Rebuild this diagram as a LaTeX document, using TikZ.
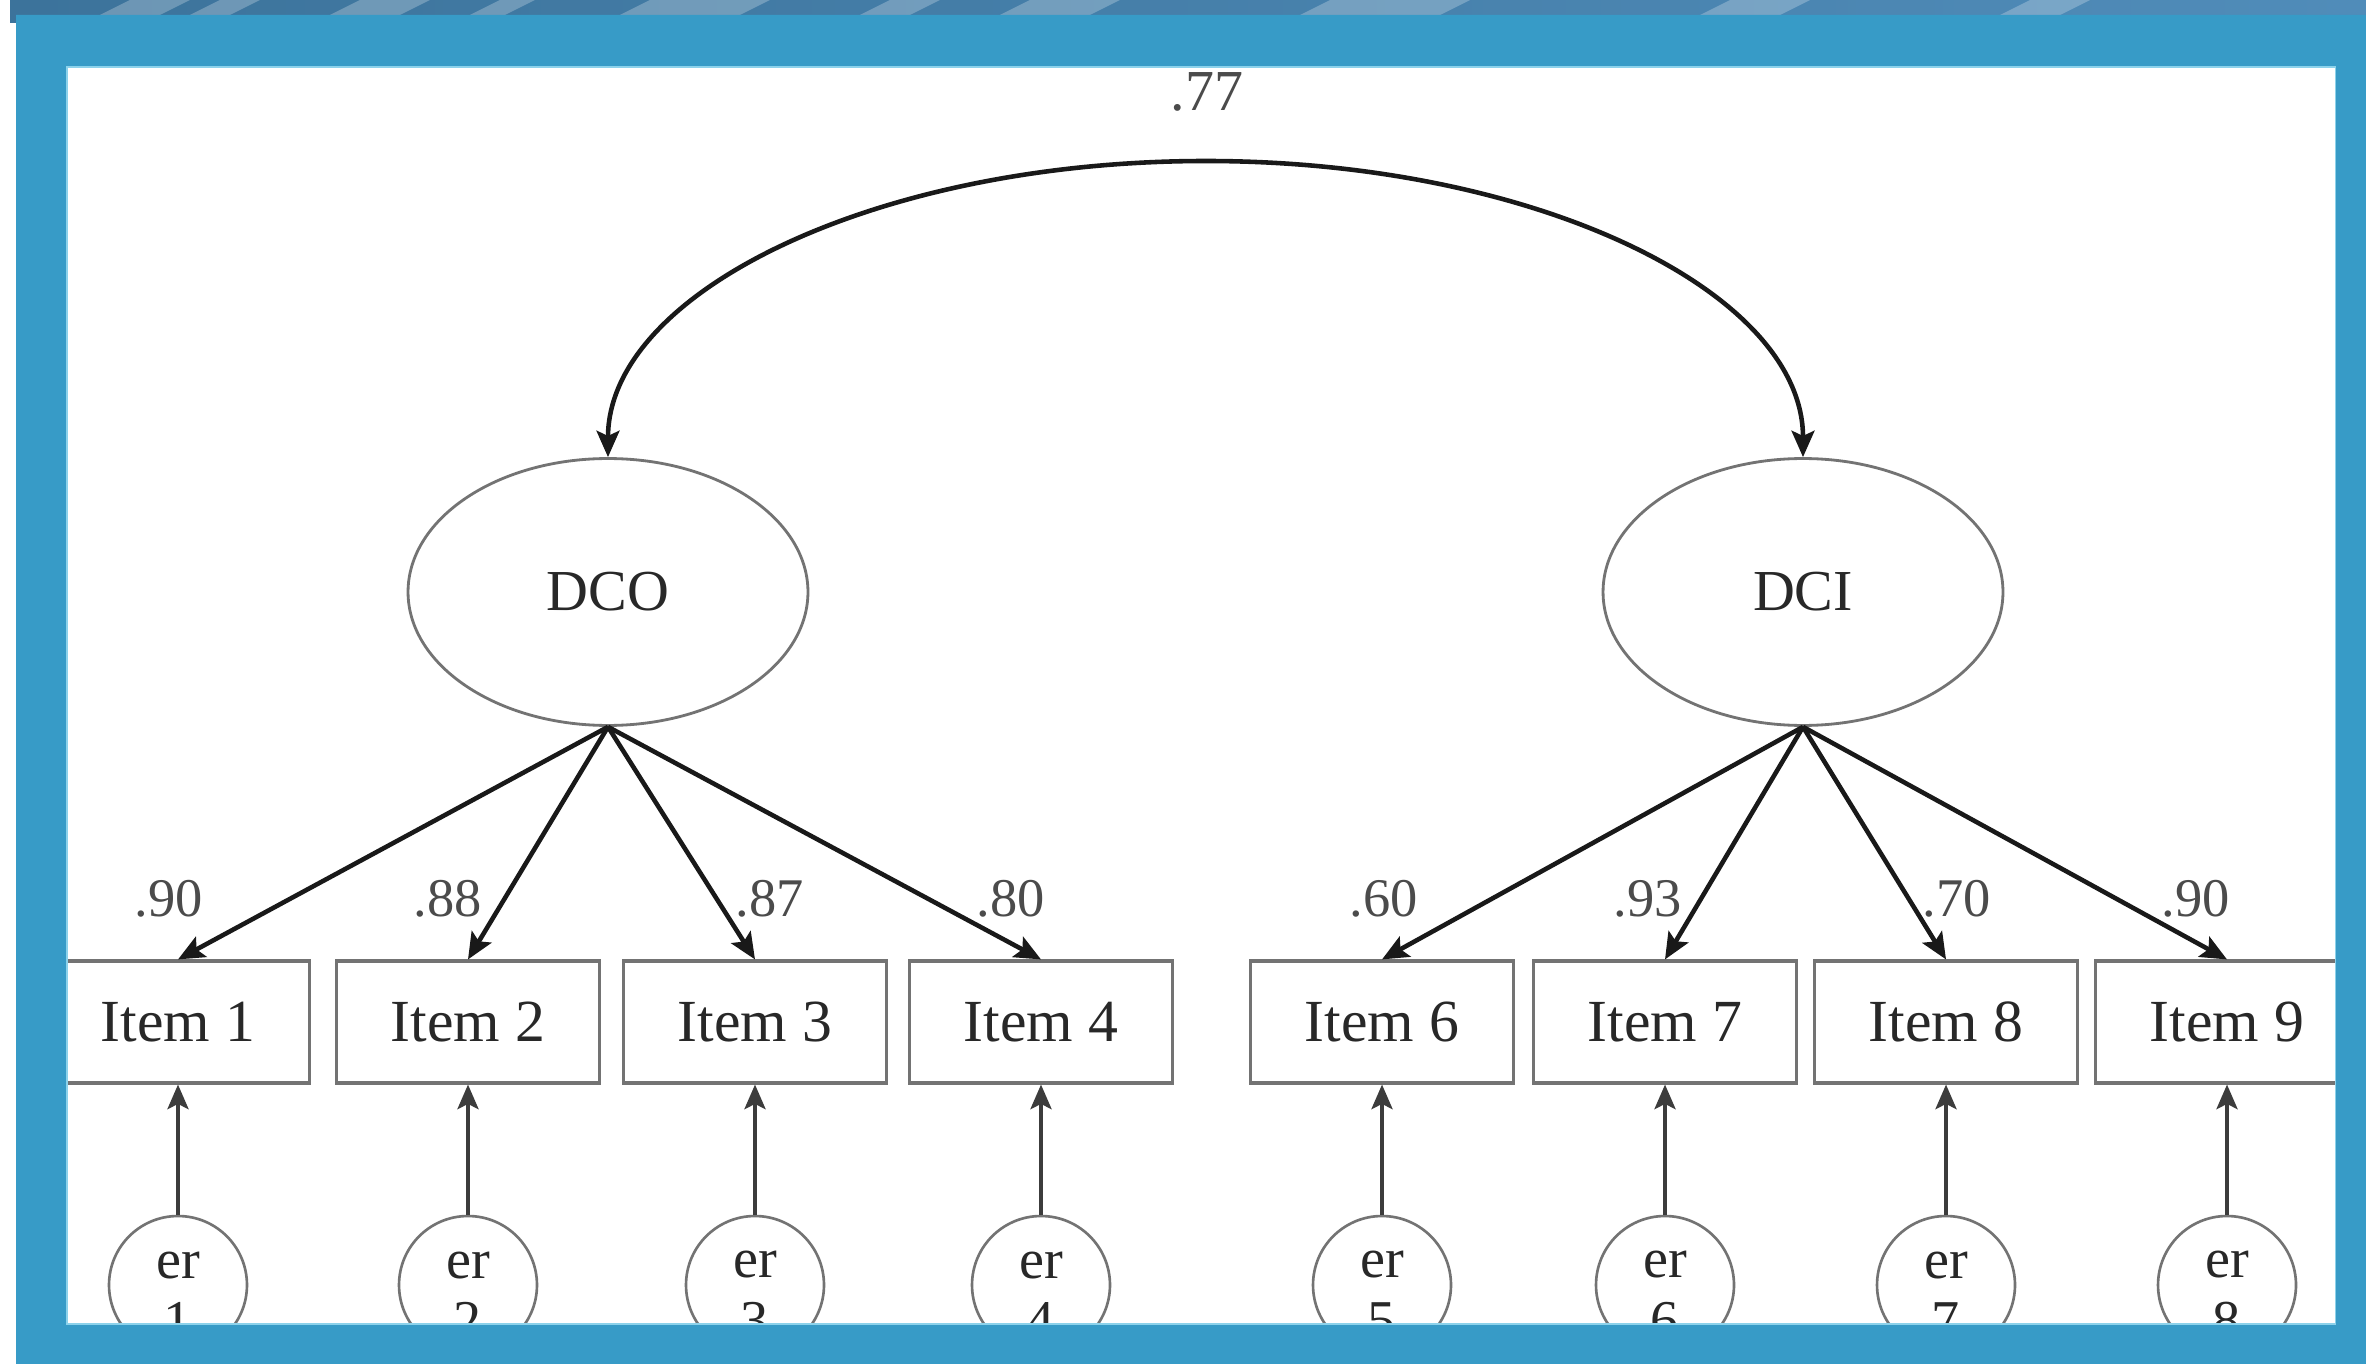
\documentclass[tikz,border=0pt]{standalone}
\usepackage{fontspec}
\setmainfont{Liberation Serif}
\usetikzlibrary{arrows.meta,shapes.geometric,calc}
\definecolor{frameblue}{RGB}{55,155,199}
\definecolor{framelight}{RGB}{140,210,235}
\definecolor{bannerdark}{RGB}{60,115,155}
\definecolor{bannermid}{RGB}{80,140,185}
\definecolor{outline}{RGB}{115,115,115}
\definecolor{txt}{RGB}{40,40,40}
\definecolor{lbltxt}{RGB}{75,75,75}
\definecolor{arrowc}{RGB}{25,25,25}
\begin{document}
\begin{tikzpicture}[x=0.02cm,y=-0.02cm,
  item/.style={draw=outline, line width=1.8pt, minimum width=5.26cm, minimum height=2.44cm, inner sep=0pt, font=\fontsize{34}{40}\selectfont, text=txt},
  latent/.style={ellipse, draw=outline, line width=1.6pt, minimum width=8cm, minimum height=5.34cm, inner sep=0pt, font=\fontsize{33}{38}\selectfont, text=txt},
  errc/.style={circle, draw=outline, line width=1.5pt, minimum size=2.76cm, inner sep=0pt},
  errtxt/.style={align=center, inner sep=0pt, font=\fontsize{32}{35}\selectfont, text=txt, yshift=-6pt},
  load/.style={-{Stealth[length=15pt,width=13pt,inset=3pt]}, line width=2.6pt, draw=arrowc},
  errarr/.style={-{Stealth[length=14pt,width=12pt,inset=3pt]}, line width=2.1pt, draw=arrowc!85!white},
  lbl/.style={font=\fontsize{31}{34}\selectfont, text=lbltxt, inner sep=0pt}
]
\useasboundingbox (0,0) rectangle (2366,1364);
\fill[white] (0,0) rectangle (2366,1364);
% banner strip
\fill[left color=bannerdark, right color=bannermid] (10,0) rectangle (2366,15);
\fill[bannerdark] (10,0) rectangle (16,23);
\foreach \a/\w in {100/60, 190/40, 330/70, 470/35, 620/120, 860/50, 1000/90, 1300/140, 1700/80, 2000/60}{
  \fill[white, opacity=0.25] (\a,15) -- (\a+30,0) -- (\a+30+\w,0) -- (\a+\w,15) -- cycle;
}
% latent variables
\node[latent] (DCO) at (608,592) {DCO};
\node[latent] (DCI) at (1803,592) {DCI};
% items
\foreach \n/\x in {1/178, 2/468, 3/755, 4/1041, 6/1382, 7/1665, 8/1946, 9/2227}{
  \node[item] (i\n) at (\x,1022) {Item \n};
}
% error terms
\foreach \n/\k/\x in {1/1/178, 2/2/468, 3/3/755, 4/4/1041, 5/6/1382, 6/7/1665, 7/8/1946, 8/9/2227}{
  \node[errc, label={[errtxt]center:{er\\\n}}] (e\n) at (\x,1285) {};
  \draw[errarr] (e\n.north) -- (i\k.south);
}
% loadings
\foreach \k in {1,2,3,4}{ \draw[load] (DCO.south) -- (i\k.north); }
\foreach \k in {6,7,8,9}{ \draw[load] (DCI.south) -- (i\k.north); }
\node[lbl] (l1) at (169,899) {.90};
\node[lbl] (l2) at (448,899) {.88};
\node[lbl] (l3) at (770,899) {.87};
\node[lbl] (l4) at (1011,899) {.80};
\node[lbl] (l6) at (1384,899) {.60};
\node[lbl] (l7) at (1648,899) {.93};
\node[lbl] (l8) at (1957,899) {.70};
\node[lbl] (l9) at (2196,899) {.90};
% covariance
\coordinate (peak) at (1206,161);
\draw[{Stealth[length=15pt,width=13pt,inset=3pt]}-{Stealth[length=15pt,width=13pt,inset=3pt]}, line width=2.6pt, draw=arrowc]
  (DCO.north) .. controls ($(DCO.north)+(0,-165)$) and ($(peak)+(-330,0)$) .. (peak)
  .. controls ($(peak)+(330,0)$) and ($(DCI.north)+(0,-165)$) .. (DCI.north);
\node[lbl, font=\fontsize{33}{36}\selectfont] (cov) at (1207,92) {.77};
% frame on top
\fill[frameblue, even odd rule] (16,15) rectangle (2366,1364) (67,67) rectangle (2335,1324);
\draw[framelight, line width=0.6pt] (67,67) rectangle (2335,1324);
\end{tikzpicture}
\end{document}
